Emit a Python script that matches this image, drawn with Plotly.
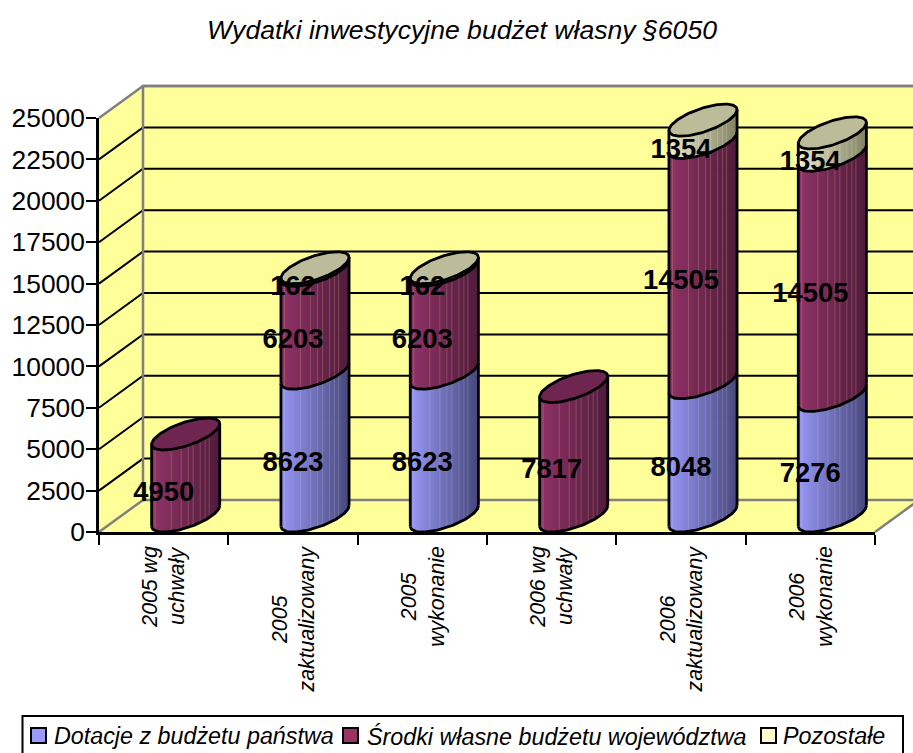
import math
import plotly.graph_objects as go

title = "Wydatki inwestycyjne budżet własny §6050"
categories = ["2005 wg<br>uchwały", "2005<br>zaktualizowany", "2005<br>wykonanie",
              "2006 wg<br>uchwały", "2006<br>zaktualizowany", "2006<br>wykonanie"]
series_names = ["Dotacje z budżetu państwa", "Środki własne budżetu województwa", "Pozostałe"]
dotacje = [0, 8623, 8623, 0, 8048, 7276]
srodki = [4950, 6203, 6203, 7817, 14505, 14505]
pozostale = [0, 162, 162, 0, 1354, 1354]
y_ticks = [0, 2500, 5000, 7500, 10000, 12500, 15000, 17500, 20000, 22500, 25000]

series = [dotacje, srodki, pozostale]
legend_colors = ["#9999FF", "#993366", "#FFFFCC"]
side_left = [(152, 152, 245), (146, 52, 104), (236, 236, 205)]
side_right = [(72, 72, 125), (80, 28, 60), (130, 130, 100)]
stripe_color = [(200, 200, 205), (205, 165, 125), (250, 250, 225)]
stripe_mix = [0.22, 0.3, 0.2]
top_colors = ["#6d6db5", "#6E2650", "#BCBC9A"]
stripes = [0.05, 0.29, 0.43, 0.54, 0.61, 0.71, 0.78, 0.85]

W, H = 913, 753
X0, X1, Y0, Y1 = 99, 875, 532, 118     # front plane of the chart in pixels
DX, DY = 44, 32                        # depth offset in pixels
n = len(categories)
cat_px = (X1 - X0) / n
val_px = (Y0 - Y1) / 25000
depth_x = DX / cat_px
depth_y = DY / val_px
half_w = 0.5 * 52 / cat_px             # half of the base width, in category units
label_drop = 3.5 / val_px              # vertical nudge of the data labels

# hidden full-canvas axes that share the scale of the visible axes
big_x = [-0.5 - X0 / cat_px, -0.5 + (W - X0) / cat_px]
big_y = [-(H - Y0) / val_px, Y0 / val_px]

fig = go.Figure()
WALL = "#FFFF99"
GREY = "#808080"


def poly(xs, ys, fill, line=None, width=0, name="", closed=True):
    fig.add_trace(go.Scatter(
        x=xs, y=ys, mode="lines", name=name, showlegend=False, hoverinfo="skip",
        fill="toself" if closed else None, fillcolor=fill,
        line=dict(color=line or "rgba(0,0,0,0)", width=width)))


L, R = -0.5, n - 0.5
poly([L, R, R + depth_x, L + depth_x, L], [0, 0, depth_y, depth_y, 0], WALL, name="podłoga")
poly([L, L + depth_x, L + depth_x, L, L], [0, depth_y, 25000 + depth_y, 25000, 0], WALL, name="ściana")
poly([L + depth_x, R + depth_x, R + depth_x, L + depth_x, L + depth_x],
     [depth_y, depth_y, 25000 + depth_y, 25000 + depth_y, depth_y], WALL, name="tył")

gx, gy = [], []
for v in y_ticks[1:-1]:
    gx += [L, L + depth_x, R + depth_x, None]
    gy += [v, v + depth_y, v + depth_y, None]
fig.add_trace(go.Scatter(x=gx, y=gy, mode="lines", showlegend=False, hoverinfo="skip",
                         line=dict(color="black", width=2), name="siatka"))
ex = [L, L + depth_x, R + depth_x, None, L, L + depth_x, L + depth_x, R + depth_x, None]
ey = [25000, 25000 + depth_y, 25000 + depth_y, None, 0, depth_y, 25000 + depth_y, 25000 + depth_y, None]
ex += [L + depth_x, R + depth_x, None, R, R + depth_x]
ey += [depth_y, depth_y, None, 0, depth_y]
fig.add_trace(go.Scatter(x=ex, y=ey, mode="lines", showlegend=False, hoverinfo="skip",
                         line=dict(color=GREY, width=2.5), name="krawędzie"))


def pt(i, v, t):
    """Point on the circle of a cylinder base, projected with the depth offset."""
    return (i + depth_x / 2 + half_w * math.cos(t) + depth_x / 2 * math.sin(t),
            v + depth_y / 2 + depth_y / 2 * math.sin(t))


# parameter of the left and right silhouette points
T_R = math.atan2(depth_x / 2, half_w)
T_L = T_R - math.pi


def front_t(frac):
    """Angle on the front half whose x position lies at frac of the cylinder width."""
    return T_R - math.acos(2 * frac - 1)


NS = 68
for s, vals in enumerate(series):
    xs_by_shade = {k: ([], []) for k in range(NS)}
    for i in range(n):
        v0 = sum(series[q][i] for q in range(s))
        v1 = v0 + vals[i]
        if vals[i] == 0:
            continue
        for k in range(NS):
            f0, f1 = k / NS, min((k + 1.8) / NS, 1)
            t0, t1 = front_t(f0), front_t(f1)
            a, b = pt(i, v0, t0), pt(i, v0, t1)
            c, d = pt(i, v1, t1), pt(i, v1, t0)
            X, Y = xs_by_shade[k]
            X += [a[0], b[0], c[0], d[0], a[0], None]
            Y += [a[1], b[1], c[1], d[1], a[1], None]
    for k in range(NS):
        f = (k + 0.5) / NS
        col = [side_left[s][j] * (1 - f) + side_right[s][j] * f for j in range(3)]
        if any(abs(f - sf) < 0.5 / NS for sf in stripes):
            col = [col[j] * (1 - stripe_mix[s]) + stripe_color[s][j] * stripe_mix[s] for j in range(3)]
        X, Y = xs_by_shade[k]
        if X:
            fig.add_trace(go.Scatter(
                x=X, y=Y, mode="lines", fill="toself",
                fillcolor="rgb(%d,%d,%d)" % tuple(int(q) for q in col),
                line=dict(width=0, color="rgba(0,0,0,0)"), name=series_names[s],
                showlegend=False, hoverinfo="skip"))

# outlines and top faces
ol_x, ol_y = [], []
NA = 60
for i in range(n):
    total = sum(sr[i] for sr in series)
    v = 0
    for s in range(3):
        if series[s][i] == 0:
            continue
        v0, v1 = v, v + series[s][i]
        arc = [pt(i, v0, T_R - math.pi * k / NA) for k in range(NA + 1)]
        ol_x += [p[0] for p in arc] + [None]
        ol_y += [p[1] for p in arc] + [None]
        a, b = pt(i, v0, T_L), pt(i, v1, T_L)
        c, d = pt(i, v0, T_R), pt(i, v1, T_R)
        ol_x += [a[0], b[0], None, c[0], d[0], None]
        ol_y += [a[1], b[1], None, c[1], d[1], None]
        v = v1
    top_s = max(s for s in range(3) if series[s][i] > 0)
    ring = [pt(i, total, 2 * math.pi * k / (2 * NA)) for k in range(2 * NA + 1)]
    poly([p[0] for p in ring], [p[1] for p in ring], top_colors[top_s], "black", 2.8,
         name=series_names[top_s])

fig.add_trace(go.Scatter(x=ol_x, y=ol_y, mode="lines", showlegend=False, hoverinfo="skip",
                         line=dict(color="black", width=2.8), name="kontury"))

# data labels, on the visible axes
lx, ly, lt = [], [], []
for i in range(n):
    v = 0
    for s in range(3):
        val = series[s][i]
        if val:
            lx.append(i); ly.append(v + val / 2 - label_drop); lt.append(str(val))
            v += val
fig.add_trace(go.Scatter(x=lx, y=ly, text=lt, mode="text", xaxis="x2", yaxis="y2",
                         textposition="middle center", cliponaxis=False, showlegend=False,
                         hoverinfo="skip",
                         textfont=dict(family="Liberation Sans", size=27.4, color="black", weight="bold")))

FONT = "Liberation Sans"
fig.update_layout(
    width=W, height=H, margin=dict(l=0, r=0, t=0, b=0, autoexpand=False), autosize=False,
    paper_bgcolor="white", plot_bgcolor="rgba(0,0,0,0)", showlegend=False,
    xaxis=dict(domain=[0, 1], range=big_x, visible=False, fixedrange=True),
    yaxis=dict(domain=[0, 1], range=big_y, visible=False, fixedrange=True),
    xaxis2=dict(domain=[X0 / W, X1 / W], range=[L, R], anchor="y2",
                tickmode="array", tickvals=[L + k for k in range(n + 1)],
                ticktext=[""] * (n + 1), ticks="outside", ticklen=10, tickwidth=2, tickcolor="black",
                showline=True, linecolor="black", linewidth=2.5, showgrid=False, zeroline=False),
    yaxis2=dict(domain=[1 - Y0 / H, 1 - Y1 / H], range=[0, 25000], anchor="x2",
                tickmode="array", tickvals=y_ticks, ticktext=[str(v) for v in y_ticks],
                ticks="outside", ticklen=10, tickwidth=2,
                tickcolor="black", showline=True, linecolor="black", linewidth=2.5, showgrid=False,
                zeroline=False, ticklabelstandoff=-4,
                tickfont=dict(family=FONT, size=26.4, color="black")),
    title=dict(text=title, x=462 / W, xanchor="center", y=1 - 30 / H, yanchor="middle",
               font=dict(family=FONT, size=26.6, style="italic", color="black")),
)

# rotated category labels, centred line by line
for i, c in enumerate(categories):
    fig.add_annotation(x=i, y=1 - 544 / H, xref="x2", yref="paper", text=c, textangle=-90,
                       showarrow=False, xanchor="center", yanchor="top", align="center",
                       font=dict(family=FONT, size=21.3, style="italic", color="black"))

# legend box
fig.add_shape(type="rect", xref="paper", yref="paper", x0=22.5 / W, x1=903 / W, y0=-0.01, y1=1 - 716 / H,
              line=dict(color="black", width=2), fillcolor="white")
lg_x = [31, 343, 761]
lg_t = [52, 365, 781]
for k in range(3):
    fig.add_shape(type="rect", xref="paper", yref="paper", x0=lg_x[k] / W, x1=(lg_x[k] + 15) / W,
                  y0=1 - 743 / H, y1=1 - 728 / H, line=dict(color="black", width=2),
                  fillcolor=legend_colors[k])
    fig.add_annotation(x=lg_t[k] / W, y=1 - 736 / H, xref="paper", yref="paper", text=series_names[k],
                       showarrow=False, xanchor="left", yanchor="middle",
                       font=dict(family=FONT, size=23.3, style="italic", color="black"))

fig.write_html("out.html", config=dict(displayModeBar=False),
               post_script="document.body.style.margin='0';")
